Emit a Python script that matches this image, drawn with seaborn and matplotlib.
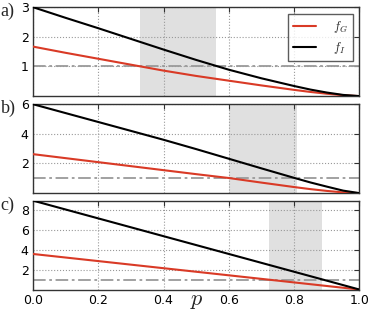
import matplotlib
matplotlib.use("Agg")
import pandas as pd
import seaborn as sns
import matplotlib.pyplot as plt

# values
p = [0.0, 0.1, 0.2, 0.3, 0.4, 0.5, 0.6, 0.7, 0.8, 0.85, 0.9, 0.95, 1.0]

fG_a = [1.67, 1.46, 1.26, 1.06, 0.86, 0.68, 0.52, 0.36, 0.21, 0.14, 0.08, 0.03, 0.0]
fI_a = [3.00, 2.64, 2.29, 1.93, 1.57, 1.22, 0.89, 0.60, 0.34, 0.22, 0.12, 0.04, 0.0]

fG_b = [2.63, 2.36, 2.09, 1.82, 1.55, 1.28, 1.02, 0.71, 0.41, 0.27, 0.15, 0.05, 0.0]
fI_b = [6.00, 5.40, 4.80, 4.20, 3.60, 2.97, 2.32, 1.67, 1.03, 0.72, 0.44, 0.17, 0.0]

fG_c = [3.60, 3.24, 2.88, 2.52, 2.16, 1.80, 1.44, 1.08, 0.72, 0.54, 0.36, 0.18, 0.0]
fI_c = [9.00, 8.10, 7.20, 6.30, 5.40, 4.50, 3.60, 2.70, 1.80, 1.35, 0.90, 0.45, 0.0]

shade_a = (0.328, 0.560)
shade_b = (0.600, 0.810)
shade_c = (0.723, 0.885)

yticks_a = [1, 2, 3]
yticks_b = [2, 4, 6]
yticks_c = [2, 4, 6, 8]
ymax = [3, 6, 9]
xticks = [0.0, 0.2, 0.4, 0.6, 0.8, 1.0]
panel_labels = ["a)", "b)", "c)"]

sns.set_theme(style="white", rc={
    "axes.edgecolor": "#333333",
    "axes.linewidth": 1.0,
    "xtick.direction": "in",
    "ytick.direction": "in",
    "grid.color": "#999999",
    "grid.linestyle": ":",
    "grid.linewidth": 0.8,
})
plt.rcParams["mathtext.fontset"] = "cm"
plt.rcParams["font.family"] = ["DejaVu Sans"]

fig = plt.figure(figsize=(3.74, 3.11), dpi=100)

panels = [
    (fG_a, fI_a, shade_a, yticks_a),
    (fG_b, fI_b, shade_b, yticks_b),
    (fG_c, fI_c, shade_c, yticks_c),
]
bottoms = [0.691, 0.379, 0.069]
tops_px = [3, 100, 197]

for i, (fg, fi, shade, yt) in enumerate(panels):
    ax = fig.add_axes([0.088, bottoms[i], 0.873, 0.286])
    df = pd.DataFrame({
        "p": p * 2,
        "value": fg + fi,
        "curve": ["$f_G$"] * len(p) + ["$f_I$"] * len(p),
    })
    ax.axvspan(shade[0], shade[1], color="#e0e0e0", lw=0, zorder=0)
    ax.axhline(1, color="#9a9a9a", ls=(0, (7, 2, 1.5, 2)), lw=1.3, zorder=1.8)
    sns.lineplot(data=df, x="p", y="value", hue="curve",
                 palette={"$f_G$": "#d93a26", "$f_I$": "black"},
                 lw=1.5, ax=ax, legend=(i == 0), zorder=3)
    ax.set_xlim(0, 1)
    ax.set_ylim(0, ymax[i])
    ax.set_xticks(xticks)
    ax.set_yticks(yt)
    ax.grid(True)
    ax.tick_params(top=True, right=True, length=3.5, width=0.8,
                   labelsize=9, pad=3, colors="#333333", labelcolor="black")
    ax.set_ylabel("")
    ax.set_xlabel("")
    if i < 2:
        ax.tick_params(labelbottom=False)
    if i == 0:
        leg = ax.legend(loc="upper right", fontsize=9, frameon=True,
                        fancybox=False, edgecolor="#333333", handlelength=1.9,
                        handletextpad=1.3, borderpad=0.4, labelspacing=0.4,
                        borderaxespad=0.55, title=None)
        leg.get_frame().set_linewidth(1.0)
    fig.text(0.002, 1 - tops_px[i] / 311, panel_labels[i], fontsize=13,
             family="Liberation Serif", va="top", ha="left")

fig.text(197 / 374, 1 - 305 / 311, "$p$", fontsize=16, ha="center", va="baseline")

fig.savefig("out.png", dpi=100)
